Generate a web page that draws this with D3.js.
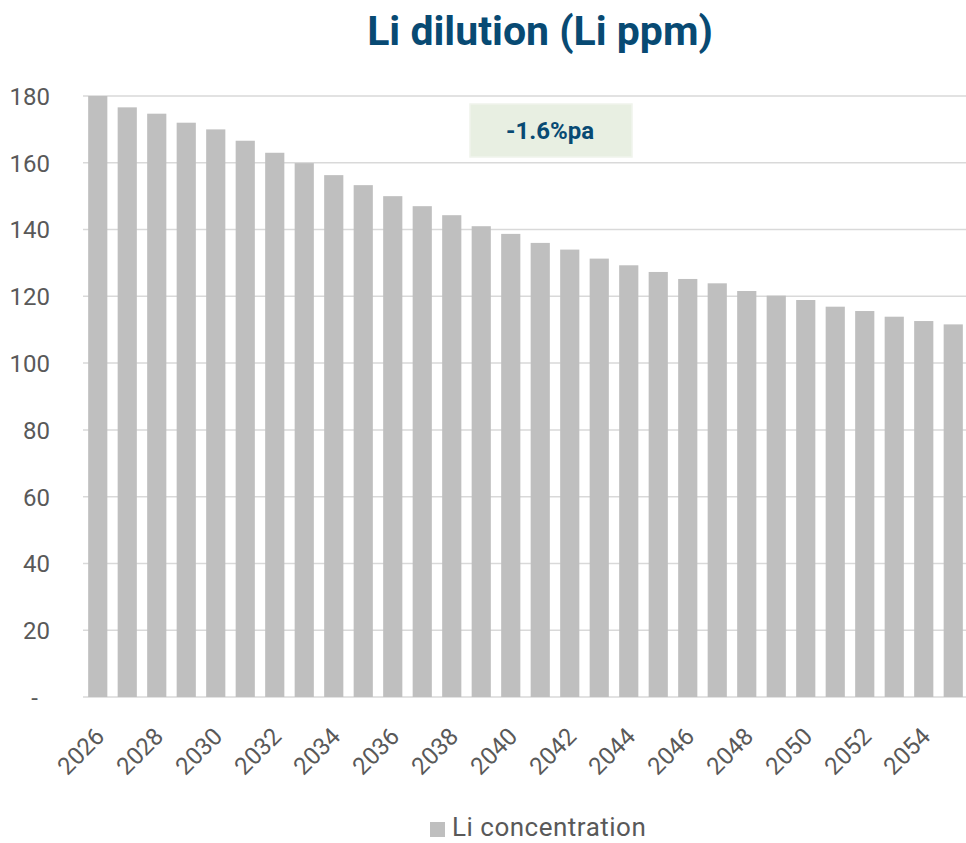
<!DOCTYPE html>
<html>
<head>
<meta charset="utf-8">
<script src="https://cdn.jsdelivr.net/npm/d3@7"></script>
<style>
  body { margin: 0; background: #fff; }
  text { font-family: Roboto, "Noto Sans", sans-serif; }
</style>
</head>
<body>
<div id="chart"></div>
<script>
// Chart data
const years = d3.range(2026, 2056).map(String);
const liPpm = [180.0, 176.6, 174.7, 172.0, 170.0, 166.6, 163.0, 159.9, 156.3, 153.3,
               150.0, 147.0, 144.3, 141.0, 138.7, 136.0, 134.0, 131.3, 129.3, 127.3,
               125.2, 123.9, 121.6, 120.2, 118.9, 116.9, 115.6, 113.9, 112.6, 111.6];
const yTicks = [0, 20, 40, 60, 80, 100, 120, 140, 160, 180];
const xTickLabels = years.filter((d, i) => i % 2 === 0);
const seriesName = "Li concentration";
const chartTitle = "Li dilution (Li ppm)";
const noteText = "-1.6%pa";

const W = 966, H = 843;
const plotLeft = 83, plotRight = 968, plotTop = 96, plotBottom = 697;

const svg = d3.select("#chart")
  .append("svg")
  .attr("width", W)
  .attr("height", H);

const x = d3.scaleBand()
  .domain(years)
  .range([plotLeft, plotRight])
  .paddingInner(0.35)
  .paddingOuter(0.175);

const y = d3.scaleLinear()
  .domain([0, 180])
  .range([plotBottom, plotTop]);

// Gridlines
svg.append("g")
  .selectAll("line")
  .data(yTicks)
  .join("line")
  .attr("x1", plotLeft)
  .attr("x2", W)
  .attr("y1", d => y(d))
  .attr("y2", d => y(d))
  .attr("stroke", "#d9d9d9")
  .attr("stroke-width", 1.5);

// Bars
svg.append("g")
  .selectAll("rect")
  .data(liPpm)
  .join("rect")
  .attr("x", (d, i) => x(years[i]))
  .attr("width", x.bandwidth())
  .attr("y", d => y(d))
  .attr("height", d => y(0) - y(d))
  .attr("fill", "#bfbfbf");

// Y axis
const yAxis = svg.append("g")
  .attr("transform", "translate(" + (plotLeft - 33) + ",0)")
  .call(d3.axisLeft(y).tickValues(yTicks).tickSize(0).tickPadding(0)
    .tickFormat(d => d === 0 ? "-" : d));
yAxis.select(".domain").remove();
yAxis.selectAll("text")
  .attr("fill", "#595959")
  .style("font-size", "24px")
  .attr("dy", "0.35em");
yAxis.selectAll("text").filter(d => d === 0).attr("dx", -12);

// X axis
const xAxis = svg.append("g")
  .attr("transform", "translate(0," + plotBottom + ")")
  .call(d3.axisBottom(x).tickValues(xTickLabels).tickSize(0).tickPadding(0));
xAxis.select(".domain").remove();
xAxis.selectAll("text")
  .attr("fill", "#595959")
  .style("font-size", "24px")
  .style("text-anchor", "end")
  .attr("dy", null)
  .attr("y", 0)
  .attr("transform", "translate(8,41) rotate(-45)");

// Title
svg.append("text")
  .attr("x", 540)
  .attr("y", 45)
  .attr("text-anchor", "middle")
  .attr("fill", "#084a73")
  .style("font-size", "41px")
  .style("font-weight", "bold")
  .text(chartTitle);

// Annotation box
svg.append("rect")
  .attr("x", 470)
  .attr("y", 104)
  .attr("width", 162)
  .attr("height", 53)
  .attr("fill", "#e8efe2")
  .attr("stroke", "#f0f4ec")
  .attr("stroke-width", 1.5);
svg.append("text")
  .attr("x", 550)
  .attr("y", 139)
  .attr("text-anchor", "middle")
  .attr("fill", "#084a73")
  .style("font-size", "24px")
  .style("font-weight", "bold")
  .text(noteText);

// Legend
svg.append("rect")
  .attr("x", 430)
  .attr("y", 822)
  .attr("width", 15)
  .attr("height", 15)
  .attr("fill", "#bfbfbf");
svg.append("text")
  .attr("x", 452)
  .attr("y", 836)
  .attr("fill", "#595959")
  .style("font-size", "26px")
  .style("letter-spacing", "0.5px")
  .text(seriesName);
</script>
</body>
</html>
